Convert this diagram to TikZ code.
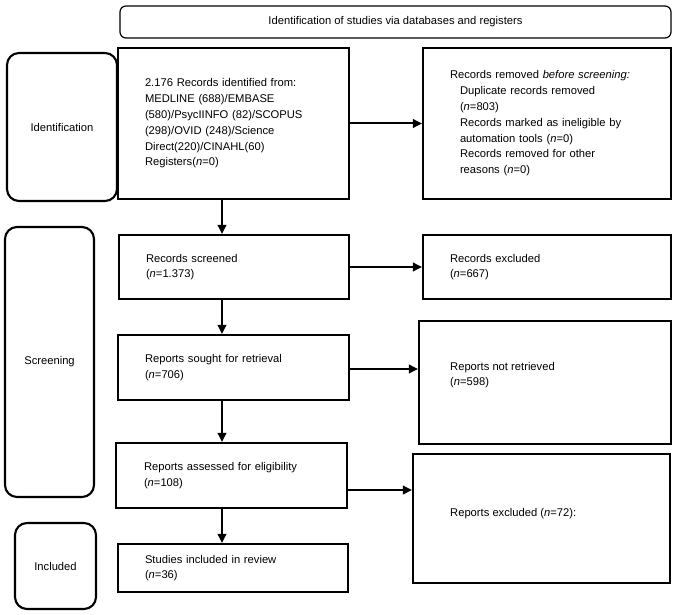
\documentclass[tikz,border=0pt]{standalone}
\usepackage{fontspec}
\setmainfont{Liberation Sans}
\usetikzlibrary{arrows.meta}
\begin{document}
\begin{tikzpicture}[x=1pt,y=-1pt,
  every node/.style={font=\fontsize{11.2}{15.8}\selectfont},
  box/.style={draw, line width=2.1pt, inner sep=0pt, align=left},
  side/.style={draw, line width=2.1pt, rounded corners=12pt, inner sep=0pt, align=center},
  banner/.style={draw, line width=1.2pt, rounded corners=6pt, inner sep=0pt, align=center},
  arr/.style={line width=2pt, -{Triangle[length=9pt,width=8.5pt]}}]
\useasboundingbox (0,0) rectangle (677,615);
% banner
\node[banner, minimum width=551, minimum height=32] (ban) at (395.5,22) {Identification of studies via databases and registers};
% side labels
\node[side, minimum width=110, minimum height=148] (ident) at (62,127) {Identification};
\node[side, minimum width=89, minimum height=270] (scr) at (49.5,362) {Screening};
\node[side, minimum width=81, minimum height=86] (incl) at (55.5,566) {Included};
% left column
\node[box, minimum width=231, minimum height=151, text width=177, inner xsep=27] (b1) at (233.5,123.5)
 {2.176 Records identified from:\\ MEDLINE (688)/EMBASE\\ (580)/PsycIINFO (82)/SCOPUS\\ (298)/OVID (248)/Science\\ Direct(220)/CINAHL(60)\\ Registers(\textit{n}=0)};
\node[box, minimum width=230, minimum height=64, text width=176, inner xsep=27] (b2) at (234,267)
 {Records screened\\ (\textit{n}=1.373)};
\node[box, minimum width=231, minimum height=65, text width=177, inner xsep=27] (b3) at (233.5,367.5)
 {Reports sought for retrieval\\ (\textit{n}=706)};
\node[box, minimum width=229, minimum height=65, text width=175, inner xsep=28] (b4) at (231.5,475.5)
 {Reports assessed for eligibility\\ (\textit{n}=108)};
\node[box, minimum width=230, minimum height=48, text width=176, inner xsep=27] (b5) at (233,568)
 {Studies included in review\\ (\textit{n}=36)};
% right column
\node[box, minimum width=248, minimum height=151, text width=194, inner xsep=27] (r1) at (547,123.5)
 {Records removed \textit{before screening:}\\
  \hspace*{10pt}Duplicate records removed\\
  \hspace*{10pt}(\textit{n}=803)\\
  \hspace*{10pt}Records marked as ineligible by\\
  \hspace*{10pt}automation tools (\textit{n}=0)\\
  \hspace*{10pt}Records removed for other\\
  \hspace*{10pt}reasons (\textit{n}=0)};
\node[box, minimum width=248, minimum height=64, text width=194, inner xsep=27] (r2) at (547,267)
 {Records excluded\\ (\textit{n}=667)};
\node[box, minimum width=252, minimum height=123] (r3) at (545,382.5) {};
\node[anchor=west, align=left, inner sep=0pt] (r3t) at (450,375) {Reports not retrieved\\ (\textit{n}=598)};
\node[box, minimum width=257, minimum height=129] (r4) at (541.5,518.5) {};
\node[anchor=west, align=left, inner sep=0pt] (r4t) at (450,514) {Reports excluded (\textit{n}=72):};
% arrows
\coordinate (ax) at (222,0);
\draw[arr] (b1.south -| ax) -- (b2.north -| ax);
\draw[arr] (b2.south -| ax) -- (b3.north -| ax);
\draw[arr] (b3.south -| ax) -- (b4.north -| ax);
\draw[arr] (b4.south -| ax) -- (b5.north -| ax);
\draw[arr] (b1.east) -- (r1.west);
\draw[arr] (b2.east) -- (r2.west);
\coordinate (y3) at (0,369);
\coordinate (y4) at (0,490);
\draw[arr] (b3.east |- y3) -- (r3.west |- y3);
\draw[arr] (b4.east |- y4) -- (r4.west |- y4);
\end{tikzpicture}
\end{document}
